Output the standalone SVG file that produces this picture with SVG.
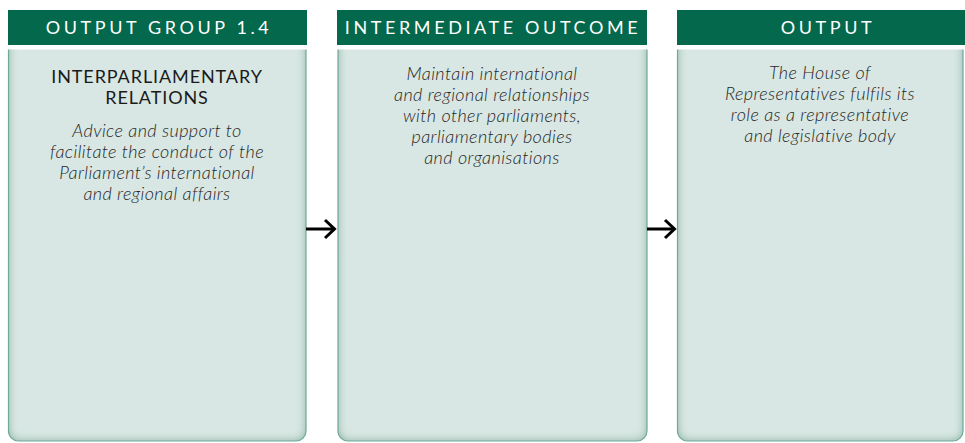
<svg xmlns="http://www.w3.org/2000/svg" width="965" height="443" viewBox="0 0 965 443">
  <style>
    .hdr { fill: #03684c; }
    .hdrtxt { font-family: Lato, "Open Sans", "Liberation Sans", sans-serif; font-size: 18px; fill: #ffffff; letter-spacing: 3.6px; text-anchor: middle; }
    .body { fill: #d8e7e3; }
    .edge { fill: none; stroke: #6fa997; stroke-width: 1.2; }
    .title { font-family: Lato, "Open Sans", "Liberation Sans", sans-serif; font-size: 18px; letter-spacing: 0.9px; fill: #1a1a1a; text-anchor: middle; }
    .desc { font-family: Lato, "Open Sans", "Liberation Sans", sans-serif; font-size: 18px; letter-spacing: 0.4px; font-style: italic; font-weight: 300; fill: #262626; text-anchor: middle; }
    .conn { stroke: #000000; stroke-width: 3; fill: none; stroke-linecap: butt; stroke-linejoin: miter; }
  </style>
  <defs>
    <filter id="inset" x="-10%" y="-10%" width="120%" height="120%">
      <feComponentTransfer in="SourceAlpha" result="inv">
        <feFuncA type="table" tableValues="1 0"/>
      </feComponentTransfer>
      <feGaussianBlur in="inv" stdDeviation="5" result="blur"/>
      <feFlood flood-color="#5f9f8a" flood-opacity="0.9" result="col"/>
      <feComposite in="col" in2="blur" operator="in" result="sh"/>
      <feComposite in="sh" in2="SourceAlpha" operator="in" result="ish"/>
      <feMerge>
        <feMergeNode in="SourceGraphic"/>
        <feMergeNode in="ish"/>
      </feMerge>
    </filter>
    <clipPath id="c1"><rect x="0" y="49.5" width="330" height="400"/></clipPath>
    <clipPath id="c2"><rect x="320" y="49.5" width="340" height="400"/></clipPath>
    <clipPath id="c3"><rect x="660" y="49.5" width="305" height="400"/></clipPath>
    <path id="body1" d="M8.5,20 H306 V431 a10,10 0 0 1 -10,10 H18.5 a10,10 0 0 1 -10,-10 Z"/>
    <path id="body2" d="M338,20 H647 V431 a10,10 0 0 1 -10,10 H348 a10,10 0 0 1 -10,-10 Z"/>
    <path id="body3" d="M677.5,20 H963 V431 a10,10 0 0 1 -10,10 H687.5 a10,10 0 0 1 -10,-10 Z"/>
  </defs>

  <g id="node-output-group">
    <g clip-path="url(#c1)">
      <use href="#body1" class="body" filter="url(#inset)"/>
      <use href="#body1" class="edge"/>
    </g>
    <rect class="hdr" x="8" y="10" width="299" height="35"/>
    <text class="hdrtxt" x="159" y="34">OUTPUT GROUP 1.4</text>
    <text class="title" x="157" y="83">INTERPARLIAMENTARY</text>
    <text class="title" x="157" y="104">RELATIONS</text>
    <text class="desc" x="157" y="137">Advice and support to</text>
    <text class="desc" x="157" y="158">facilitate the conduct of the</text>
    <text class="desc" x="157" y="179">Parliament’s international</text>
    <text class="desc" x="157" y="200">and regional affairs</text>
  </g>

  <g id="node-intermediate-outcome">
    <g clip-path="url(#c2)">
      <use href="#body2" class="body" filter="url(#inset)"/>
      <use href="#body2" class="edge"/>
    </g>
    <rect class="hdr" x="337" y="10" width="310" height="35"/>
    <text class="hdrtxt" x="493" y="34">INTERMEDIATE OUTCOME</text>
    <text class="desc" x="492" y="80">Maintain international</text>
    <text class="desc" x="492" y="101">and regional relationships</text>
    <text class="desc" x="492" y="122">with other parliaments,</text>
    <text class="desc" x="492" y="143">parliamentary bodies</text>
    <text class="desc" x="492" y="164">and organisations</text>
  </g>

  <g id="node-output">
    <g clip-path="url(#c3)">
      <use href="#body3" class="body" filter="url(#inset)"/>
      <use href="#body3" class="edge"/>
    </g>
    <rect class="hdr" x="677" y="10" width="288" height="35"/>
    <text class="hdrtxt" x="828" y="34">OUTPUT</text>
    <text class="desc" x="820" y="79">The House of</text>
    <text class="desc" x="820" y="100">Representatives fulfils its</text>
    <text class="desc" x="820" y="121">role as a representative</text>
    <text class="desc" x="820" y="142">and legislative body</text>
  </g>

  <g id="connectors">
    <path class="conn" d="M306,229 H335"/>
    <path class="conn" d="M325,220 L334.5,229 L325,238"/>
    <path class="conn" d="M647,229 H675"/>
    <path class="conn" d="M665,220 L674.5,229 L665,238"/>
  </g>
</svg>
